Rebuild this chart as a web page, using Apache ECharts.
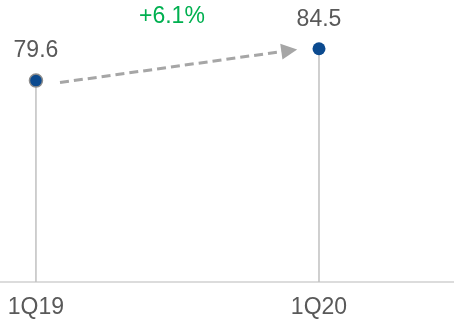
<!DOCTYPE html>
<html>
<head>
<meta charset="utf-8">
<script src="https://cdn.jsdelivr.net/npm/echarts@6/dist/echarts.min.js"></script>
<style>
  html, body { margin: 0; padding: 0; background: #fff; }
  #chart { width: 454px; height: 324px; }
</style>
</head>
<body>
<div id="chart"></div>
<script>
var categories = ['1Q19', '1Q20']; // quarters
var values = [79.6, 84.5]; // index values
var changeLabel = '+6.1%'; // change shown over the arrow

var yMin = 48.6, yMax = 92;
var font = 'Liberation Sans, Arial, sans-serif';

var points = values.map(function (v, i) { return [i, v]; });

var chart = echarts.init(document.getElementById('chart'));

var option = {
  animation: false,
  grid: { left: 0, right: 0, top: 0, bottom: 42 },
  xAxis: {
    type: 'value',
    min: -0.127,
    max: 1.477,
    splitLine: { show: false },
    axisLine: { show: true, lineStyle: { color: '#d0d0d0', width: 1.5 } },
    axisTick: { show: false },
    axisLabel: {
      customValues: [0, 1],
      formatter: function (v) { return categories[Math.round(v)]; },
      color: '#595959',
      fontSize: 23,
      fontFamily: font,
      margin: 14
    }
  },
  yAxis: { type: 'value', min: yMin, max: yMax, show: false },
  graphic: [{
    type: 'text',
    left: 139,
    top: 5,
    style: { text: changeLabel, fontSize: 23, fontFamily: font, fill: '#00b050' }
  }],
  series: [
    {
      // stems
      type: 'custom',
      z: 1,
      data: points,
      renderItem: function (params, api) {
        var x = api.value(0), v = api.value(1);
        var p0 = api.coord([x, yMin]);
        var p1 = api.coord([x, v]);
        return {
          type: 'line',
          shape: { x1: p0[0], y1: p0[1], x2: p1[0], y2: p1[1] },
          style: { stroke: '#c0c0c0', lineWidth: 1.5 }
        };
      }
    },
    {
      type: 'scatter',
      z: 3,
      symbolSize: 13,
      data: [
        { value: points[0], itemStyle: { color: '#0b4a8f', opacity: 1, borderColor: '#8c8c8c', borderWidth: 1.5 } },
        { value: points[1], itemStyle: { color: '#0b4a8f', opacity: 1 } }
      ],
      label: {
        show: true,
        position: 'top',
        distance: 11,
        color: '#595959',
        fontSize: 23,
        fontFamily: font,
        formatter: function (p) { return p.value[1].toFixed(1); }
      },
      markLine: {
        silent: true,
        symbol: ['none', 'triangle'],
        symbolSize: [16, 16],
        label: { show: false },
        lineStyle: { color: '#a6a6a6', width: 3, type: [9, 5], opacity: 1 },
        data: [[
          { coord: [points[0][0] + 0.085, points[0][1] - 0.3] },
          { coord: [points[1][0] - 0.105, points[1][1] - 0.27] }
        ]]
      }
    }
  ]
};

chart.setOption(option);
</script>
</body>
</html>
